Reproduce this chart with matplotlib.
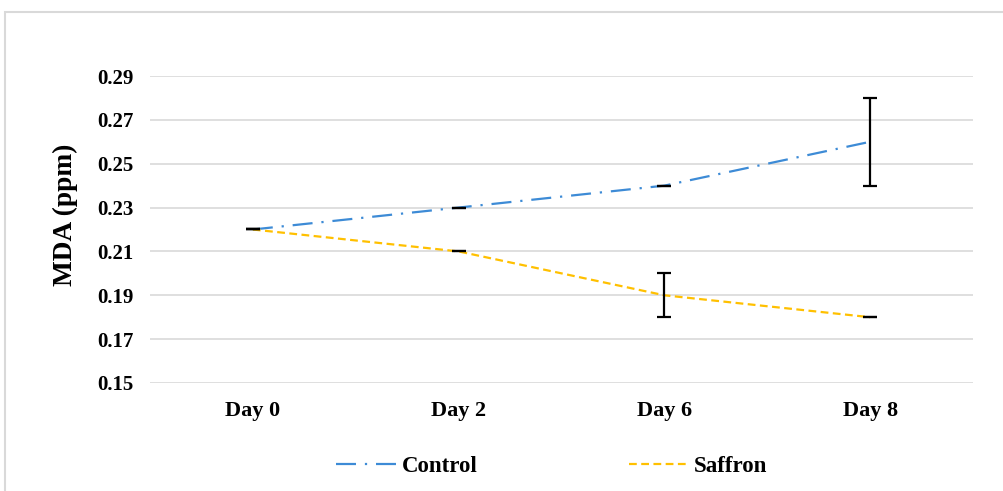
import matplotlib
matplotlib.use("Agg")
import matplotlib.pyplot as plt
from matplotlib.patches import Rectangle

categories = ["Day 0", "Day 2", "Day 6", "Day 8"]
control = [0.22, 0.23, 0.24, 0.26]
control_err = [0.0, 0.0, 0.0, 0.02]
saffron = [0.22, 0.21, 0.19, 0.18]
saffron_err = [0.0, 0.0, 0.01, 0.0]
yticks = [0.15, 0.17, 0.19, 0.21, 0.23, 0.25, 0.27, 0.29]

plt.rcParams['font.family'] = ['Liberation Serif', 'DejaVu Serif']
plt.rcParams['font.weight'] = 'bold'

fig = plt.figure(figsize=(10.04, 4.91), dpi=100)
W, H = 1004, 491
ax = fig.add_axes([150 / W, 1 - 383 / H, (973 - 150) / W, (383 - 76) / H])

x = list(range(len(categories)))
ax.plot(x, control, color='#3D8BD6', lw=1.6, dashes=(9, 4, 1, 4), label='Control', zorder=3)
ax.plot(x, saffron, color='#FFC000', lw=1.6, dashes=(3.5, 2), label='Saffron', zorder=3)
ax.errorbar(x, control, yerr=control_err, fmt='none', ecolor='black', elinewidth=1.6,
            capsize=5, capthick=1.6, zorder=4)
ax.errorbar(x, saffron, yerr=saffron_err, fmt='none', ecolor='black', elinewidth=1.6,
            capsize=5, capthick=1.6, zorder=4)

ax.set_xlim(-0.5, len(categories) - 0.5)
ax.set_ylim(0.15, 0.29)
ax.set_yticks(yticks)
ax.set_yticklabels([f"{v:.2f}" for v in yticks])
ax.set_xticks(x)
ax.set_xticklabels(categories)
ax.tick_params(axis='x', length=0, labelsize=16, pad=13)
ax.tick_params(axis='y', length=0, labelsize=15, pad=12)
for lab in ax.get_xticklabels() + ax.get_yticklabels():
    lab.set_fontweight('bold')
ax.grid(axis='y', color='#D9D9D9', lw=1.2)
ax.set_axisbelow(True)
for s in ax.spines.values():
    s.set_visible(False)
ax.set_ylabel("MDA (ppm)", fontsize=19.7, fontweight='bold')
ax.yaxis.set_label_coords(-0.0875, 0.547)

leg = fig.legend(loc='center', bbox_to_anchor=(552 / W, 1 - 466 / H), ncol=2,
                 frameon=False, fontsize=16.5, handlelength=2.6, columnspacing=6.6,
                 handletextpad=0.25)
for t in leg.get_texts():
    t.set_fontweight('bold')

fig.patches.append(Rectangle((4.5 / W, -0.1), 1.2, 1 - 11.5 / H + 0.1,
                             transform=fig.transFigure, fill=False,
                             edgecolor='#D9D9D9', lw=1.5))

fig.savefig("out.png", dpi=100)
